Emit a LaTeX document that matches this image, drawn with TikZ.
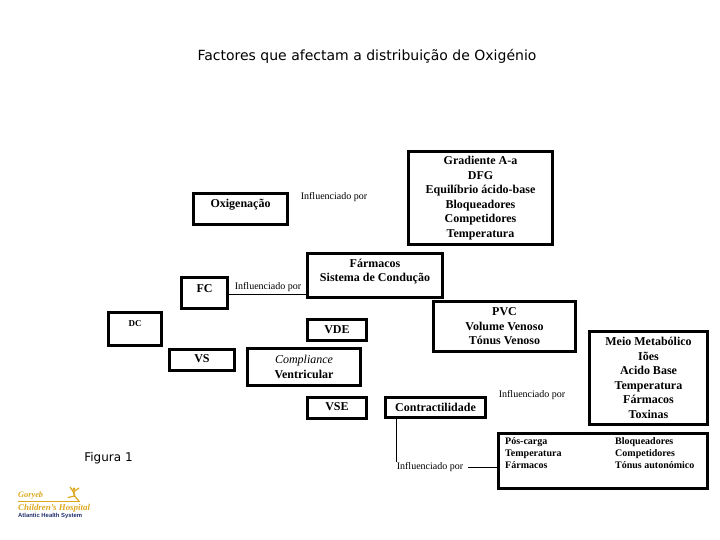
\documentclass[tikz,border=0pt]{standalone}
\usepackage{fontspec}
\setmainfont{Liberation Serif}
\newfontfamily\titlefont{DejaVu Sans}
\newfontfamily\logofont{Liberation Sans}
\definecolor{logogold}{HTML}{DCA81E}
\definecolor{logoblue}{HTML}{1F2F6B}
\tikzset{
  caixa/.style={draw, line width=3pt, inner sep=0pt, align=center, font=\fontsize{12}{14.5}\selectfont\bfseries},
  influencia/.style={inner sep=0pt, font=\fontsize{10}{12}\selectfont},
  coluna/.style={inner sep=0pt, anchor=north west, align=left, font=\fontsize{10}{12}\selectfont\bfseries},
  titulo/.style={inner sep=0pt, font=\fontsize{#1}{15}\selectfont\titlefont},
}
\begin{document}
\begin{tikzpicture}[x=1pt,y=-1pt]
                        \useasboundingbox (0,0) rectangle (720,540);
                        % Title
                        \node[titulo=14] (titulo) at (367,56) {Factores que afectam a distribuição de Oxigénio};
                        \node[titulo=12] (figura) at (108.5,458.5) {Figura 1};

                        % Nodes
                        \node[caixa, minimum width=94, minimum height=31, text depth=11pt] (oxigenacao) at (240.5,209) {Oxigenação};
                        \node[caixa, minimum width=144, minimum height=93] (gradiente) at (480.5,198) {Gradiente A-a\\DFG\\Equilíbrio ácido-base\\Bloqueadores\\Competidores\\Temperatura};
                        \node[caixa, minimum width=135, minimum height=44] (farmacos) at (375,275.5) {Fármacos\\Sistema de Condução\\[-4.5pt]};
                        \node[caixa, minimum width=46, minimum height=31, text depth=8pt] (fc) at (204.5,293) {FC};
                        \node[caixa, minimum width=53, minimum height=33, text depth=11pt, font=\fontsize{9}{11}\selectfont\bfseries] (dc) at (135,329) {DC};
                        \node[caixa, minimum width=65, minimum height=21, text depth=2pt] (vs) at (202,360) {VS};
                        \node[caixa, minimum width=59, minimum height=21] (vde) at (337,330) {VDE};
                        \node[caixa, minimum width=142, minimum height=50] (pvc) at (504.5,326.5) {PVC\\Volume Venoso\\Tónus Venoso};
                        \node[caixa, minimum width=113, minimum height=37] (compliance) at (304,367) {{\mdseries\itshape Compliance}\\Ventricular};
                        \node[caixa, minimum width=59, minimum height=21, text depth=2pt] (vse) at (337,408) {VSE};
                        \node[caixa, minimum width=100, minimum height=20] (contractilidade) at (435.5,407.5) {Contractilidade};
                        \node[caixa, minimum width=118, minimum height=93] (meio) at (648.5,378) {Meio Metabólico\\Iões\\Acido Base\\Temperatura\\Fármacos\\Toxinas};
                        \node[caixa, minimum width=209, minimum height=55] (poscarga) at (603,461) {};
                        \node[coluna] (poscol) at (505,437) {Pós-carga\\Temperatura\\Fármacos};
                        \node[coluna] (bloqcol) at (615,437) {Bloqueadores\\Competidores\\Tónus autonómico};

                        % Influenciado por
                        \node[influencia] (inf1) at (334,197) {Influenciado por};
                        \node[influencia] (inf2) at (268,287) {Influenciado por};
                        \node[influencia] (inf3) at (532,395) {Influenciado por};
                        \node[influencia] (inf4) at (430,467) {Influenciado por};

                        % Edges
                        \draw[-] (fc.east |- 0,294) -- (farmacos.west |- 0,294);
                        \draw[-] (inf4.north west) -- (inf4.north west |- contractilidade.south);
                        \draw[-, line width=0.8pt] ([xshift=5pt]inf4.east) -- (poscarga.west |- inf4.east);

                        % Logo
                        \node[inner sep=0pt, anchor=west, text=logogold, font=\fontsize{8.3}{9}\selectfont\bfseries\itshape] (goryeb) at (18,495.5) {Goryeb};
                        \node[inner sep=0pt, anchor=west, text=logogold, font=\fontsize{8.9}{10}\selectfont\bfseries\itshape] (childrens) at (18,508) {Children's Hospital};
                        \node[inner sep=0pt, anchor=west, text=logoblue, font=\fontsize{5.9}{7}\selectfont\bfseries\logofont] (atlantic) at (18,516) {Atlantic Health System};
                        \draw[logogold, line width=0.5pt] (18,501) -- (80,501);
                        \fill[logogold] (74,489) circle (1.6);
                        \draw[logogold, line width=1.2pt, line cap=round] (70,487) -- (73.5,492) -- (79,488);
                        \draw[logogold, line width=1.6pt, line cap=round] (73.5,491) -- (74.5,496);
                        \draw[logogold, line width=1.2pt, line cap=round] (68,497.5) -- (74.5,496) -- (79,501);
\end{tikzpicture}
\end{document}
